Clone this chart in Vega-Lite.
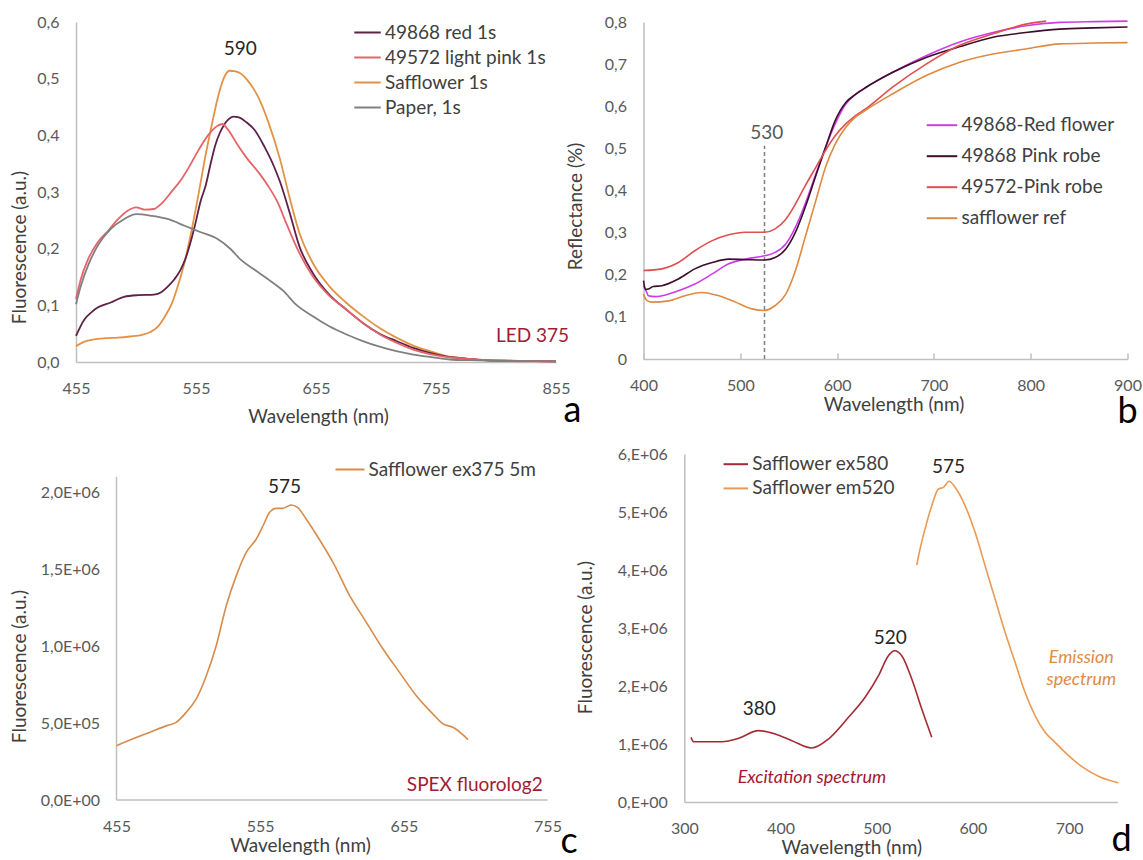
{
  "$schema": "https://vega.github.io/schema/vega-lite/v6.json",
  "background": "white",
  "padding": {"left": 10, "top": 14, "right": 0, "bottom": 0},
  "config": {
    "view": {"stroke": null},
    "font": "Lato",
    "axis": {
      "grid": false, "ticks": false, "domainColor": "#BFBFBF", "domainWidth": 1.5,
      "labelFont": "Lato", "labelFontSize": 16, "labelColor": "#595959", "labelPadding": 18,
      "labelFlush": false, "labelOverlap": false,
      "titleFont": "Lato", "titleFontSize": 19, "titleFontWeight": "normal", "titleColor": "#404040",
      "titleBaseline": "middle"
    },
    "legend": {
      "labelFont": "Lato", "labelFontSize": 19, "labelColor": "#404040", "symbolType": "stroke",
      "symbolStrokeWidth": 2, "padding": 0, "labelLimit": 400
    }
  },
  "datasets": {
    "a": [
      {"s":"Safflower 1s","w":455,"v":0.028},{"s":"Safflower 1s","w":462,"v":0.036},{"s":"Safflower 1s","w":470,"v":0.040},{"s":"Safflower 1s","w":480,"v":0.042},{"s":"Safflower 1s","w":490,"v":0.043},{"s":"Safflower 1s","w":500,"v":0.045},{"s":"Safflower 1s","w":510,"v":0.048},{"s":"Safflower 1s","w":517,"v":0.053},{"s":"Safflower 1s","w":523,"v":0.062},{"s":"Safflower 1s","w":529,"v":0.080},{"s":"Safflower 1s","w":535,"v":0.104},{"s":"Safflower 1s","w":540,"v":0.135},{"s":"Safflower 1s","w":545,"v":0.172},{"s":"Safflower 1s","w":551,"v":0.229},{"s":"Safflower 1s","w":557,"v":0.295},{"s":"Safflower 1s","w":563,"v":0.365},{"s":"Safflower 1s","w":568,"v":0.417},{"s":"Safflower 1s","w":573,"v":0.465},{"s":"Safflower 1s","w":578,"v":0.500},{"s":"Safflower 1s","w":583,"v":0.514},{"s":"Safflower 1s","w":588,"v":0.513},{"s":"Safflower 1s","w":593,"v":0.508},{"s":"Safflower 1s","w":598,"v":0.497},{"s":"Safflower 1s","w":603,"v":0.482},{"s":"Safflower 1s","w":607,"v":0.467},{"s":"Safflower 1s","w":615,"v":0.425},{"s":"Safflower 1s","w":625,"v":0.358},{"s":"Safflower 1s","w":633,"v":0.290},{"s":"Safflower 1s","w":641,"v":0.229},{"s":"Safflower 1s","w":652,"v":0.176},{"s":"Safflower 1s","w":666,"v":0.134},{"s":"Safflower 1s","w":680,"v":0.105},{"s":"Safflower 1s","w":694,"v":0.081},{"s":"Safflower 1s","w":708,"v":0.060},{"s":"Safflower 1s","w":722,"v":0.043},{"s":"Safflower 1s","w":736,"v":0.029},{"s":"Safflower 1s","w":750,"v":0.019},{"s":"Safflower 1s","w":763,"v":0.011},{"s":"Safflower 1s","w":777,"v":0.007},{"s":"Safflower 1s","w":791,"v":0.004},{"s":"Safflower 1s","w":815,"v":0.002},{"s":"Safflower 1s","w":835,"v":0.001},{"s":"Safflower 1s","w":855,"v":0.001},
      {"s":"49868 red 1s","w":455,"v":0.046},{"s":"49868 red 1s","w":462,"v":0.075},{"s":"49868 red 1s","w":468,"v":0.088},{"s":"49868 red 1s","w":473,"v":0.096},{"s":"49868 red 1s","w":484,"v":0.105},{"s":"49868 red 1s","w":495,"v":0.115},{"s":"49868 red 1s","w":507,"v":0.118},{"s":"49868 red 1s","w":520,"v":0.119},{"s":"49868 red 1s","w":526,"v":0.123},{"s":"49868 red 1s","w":531,"v":0.132},{"s":"49868 red 1s","w":537,"v":0.146},{"s":"49868 red 1s","w":542,"v":0.162},{"s":"49868 red 1s","w":546,"v":0.181},{"s":"49868 red 1s","w":550,"v":0.208},{"s":"49868 red 1s","w":554,"v":0.240},{"s":"49868 red 1s","w":559,"v":0.285},{"s":"49868 red 1s","w":563,"v":0.311},{"s":"49868 red 1s","w":567,"v":0.348},{"s":"49868 red 1s","w":571,"v":0.382},{"s":"49868 red 1s","w":575,"v":0.405},{"s":"49868 red 1s","w":578,"v":0.417},{"s":"49868 red 1s","w":582,"v":0.428},{"s":"49868 red 1s","w":586,"v":0.433},{"s":"49868 red 1s","w":590,"v":0.432},{"s":"49868 red 1s","w":594,"v":0.428},{"s":"49868 red 1s","w":597,"v":0.423},{"s":"49868 red 1s","w":604,"v":0.409},{"s":"49868 red 1s","w":612,"v":0.380},{"s":"49868 red 1s","w":620,"v":0.345},{"s":"49868 red 1s","w":625,"v":0.318},{"s":"49868 red 1s","w":633,"v":0.264},{"s":"49868 red 1s","w":641,"v":0.205},{"s":"49868 red 1s","w":652,"v":0.158},{"s":"49868 red 1s","w":666,"v":0.119},{"s":"49868 red 1s","w":680,"v":0.093},{"s":"49868 red 1s","w":694,"v":0.069},{"s":"49868 red 1s","w":708,"v":0.050},{"s":"49868 red 1s","w":722,"v":0.037},{"s":"49868 red 1s","w":736,"v":0.025},{"s":"49868 red 1s","w":750,"v":0.016},{"s":"49868 red 1s","w":763,"v":0.010},{"s":"49868 red 1s","w":780,"v":0.006},{"s":"49868 red 1s","w":797,"v":0.003},{"s":"49868 red 1s","w":820,"v":0.002},{"s":"49868 red 1s","w":855,"v":0.001},
      {"s":"49572 light pink 1s","w":455,"v":0.111},{"s":"49572 light pink 1s","w":459,"v":0.146},{"s":"49572 light pink 1s","w":465,"v":0.181},{"s":"49572 light pink 1s","w":473,"v":0.211},{"s":"49572 light pink 1s","w":482,"v":0.232},{"s":"49572 light pink 1s","w":490,"v":0.252},{"s":"49572 light pink 1s","w":498,"v":0.267},{"s":"49572 light pink 1s","w":505,"v":0.273},{"s":"49572 light pink 1s","w":512,"v":0.269},{"s":"49572 light pink 1s","w":520,"v":0.270},{"s":"49572 light pink 1s","w":526,"v":0.279},{"s":"49572 light pink 1s","w":534,"v":0.299},{"s":"49572 light pink 1s","w":543,"v":0.323},{"s":"49572 light pink 1s","w":550,"v":0.347},{"s":"49572 light pink 1s","w":556,"v":0.370},{"s":"49572 light pink 1s","w":565,"v":0.400},{"s":"49572 light pink 1s","w":573,"v":0.417},{"s":"49572 light pink 1s","w":577,"v":0.420},{"s":"49572 light pink 1s","w":581,"v":0.412},{"s":"49572 light pink 1s","w":590,"v":0.382},{"s":"49572 light pink 1s","w":598,"v":0.358},{"s":"49572 light pink 1s","w":607,"v":0.335},{"s":"49572 light pink 1s","w":615,"v":0.311},{"s":"49572 light pink 1s","w":623,"v":0.282},{"s":"49572 light pink 1s","w":630,"v":0.246},{"s":"49572 light pink 1s","w":641,"v":0.193},{"s":"49572 light pink 1s","w":652,"v":0.152},{"s":"49572 light pink 1s","w":666,"v":0.117},{"s":"49572 light pink 1s","w":680,"v":0.093},{"s":"49572 light pink 1s","w":694,"v":0.069},{"s":"49572 light pink 1s","w":708,"v":0.049},{"s":"49572 light pink 1s","w":722,"v":0.034},{"s":"49572 light pink 1s","w":736,"v":0.022},{"s":"49572 light pink 1s","w":750,"v":0.014},{"s":"49572 light pink 1s","w":763,"v":0.009},{"s":"49572 light pink 1s","w":780,"v":0.006},{"s":"49572 light pink 1s","w":800,"v":0.003},{"s":"49572 light pink 1s","w":825,"v":0.002},{"s":"49572 light pink 1s","w":855,"v":0.001},
      {"s":"Paper, 1s","w":455,"v":0.102},{"s":"Paper, 1s","w":459,"v":0.134},{"s":"Paper, 1s","w":465,"v":0.170},{"s":"Paper, 1s","w":473,"v":0.205},{"s":"Paper, 1s","w":484,"v":0.235},{"s":"Paper, 1s","w":495,"v":0.252},{"s":"Paper, 1s","w":505,"v":0.261},{"s":"Paper, 1s","w":518,"v":0.258},{"s":"Paper, 1s","w":532,"v":0.252},{"s":"Paper, 1s","w":546,"v":0.240},{"s":"Paper, 1s","w":559,"v":0.229},{"s":"Paper, 1s","w":573,"v":0.217},{"s":"Paper, 1s","w":584,"v":0.199},{"s":"Paper, 1s","w":592,"v":0.181},{"s":"Paper, 1s","w":603,"v":0.164},{"s":"Paper, 1s","w":617,"v":0.143},{"s":"Paper, 1s","w":628,"v":0.125},{"s":"Paper, 1s","w":638,"v":0.102},{"s":"Paper, 1s","w":652,"v":0.081},{"s":"Paper, 1s","w":666,"v":0.063},{"s":"Paper, 1s","w":680,"v":0.049},{"s":"Paper, 1s","w":694,"v":0.037},{"s":"Paper, 1s","w":708,"v":0.027},{"s":"Paper, 1s","w":722,"v":0.019},{"s":"Paper, 1s","w":736,"v":0.013},{"s":"Paper, 1s","w":750,"v":0.009},{"s":"Paper, 1s","w":769,"v":0.004},{"s":"Paper, 1s","w":791,"v":0.003},{"s":"Paper, 1s","w":820,"v":0.002},{"s":"Paper, 1s","w":855,"v":0.001}
    ],
    "b": [
      {"s":"49868-Red flower","w":400,"v":0.174},{"s":"49868-Red flower","w":403,"v":0.160},{"s":"49868-Red flower","w":405,"v":0.150},{"s":"49868-Red flower","w":412,"v":0.148},{"s":"49868-Red flower","w":419,"v":0.150},{"s":"49868-Red flower","w":436,"v":0.162},{"s":"49868-Red flower","w":453,"v":0.178},{"s":"49868-Red flower","w":471,"v":0.202},{"s":"49868-Red flower","w":488,"v":0.226},{"s":"49868-Red flower","w":505,"v":0.237},{"s":"49868-Red flower","w":525,"v":0.245},{"s":"49868-Red flower","w":536,"v":0.253},{"s":"49868-Red flower","w":547,"v":0.273},{"s":"49868-Red flower","w":557,"v":0.313},{"s":"49868-Red flower","w":567,"v":0.368},{"s":"49868-Red flower","w":578,"v":0.439},{"s":"49868-Red flower","w":588,"v":0.502},{"s":"49868-Red flower","w":598,"v":0.558},{"s":"49868-Red flower","w":609,"v":0.605},{"s":"49868-Red flower","w":619,"v":0.628},{"s":"49868-Red flower","w":630,"v":0.645},{"s":"49868-Red flower","w":657,"v":0.680},{"s":"49868-Red flower","w":692,"v":0.720},{"s":"49868-Red flower","w":726,"v":0.752},{"s":"49868-Red flower","w":761,"v":0.775},{"s":"49868-Red flower","w":795,"v":0.791},{"s":"49868-Red flower","w":830,"v":0.799},{"s":"49868-Red flower","w":865,"v":0.801},{"s":"49868-Red flower","w":900,"v":0.802},
      {"s":"49868 Pink robe","w":400,"v":0.186},{"s":"49868 Pink robe","w":402,"v":0.165},{"s":"49868 Pink robe","w":405,"v":0.166},{"s":"49868 Pink robe","w":410,"v":0.172},{"s":"49868 Pink robe","w":419,"v":0.174},{"s":"49868 Pink robe","w":436,"v":0.190},{"s":"49868 Pink robe","w":453,"v":0.214},{"s":"49868 Pink robe","w":471,"v":0.229},{"s":"49868 Pink robe","w":488,"v":0.237},{"s":"49868 Pink robe","w":505,"v":0.236},{"s":"49868 Pink robe","w":525,"v":0.235},{"s":"49868 Pink robe","w":536,"v":0.241},{"s":"49868 Pink robe","w":547,"v":0.261},{"s":"49868 Pink robe","w":557,"v":0.301},{"s":"49868 Pink robe","w":567,"v":0.360},{"s":"49868 Pink robe","w":578,"v":0.435},{"s":"49868 Pink robe","w":588,"v":0.502},{"s":"49868 Pink robe","w":598,"v":0.566},{"s":"49868 Pink robe","w":609,"v":0.609},{"s":"49868 Pink robe","w":619,"v":0.628},{"s":"49868 Pink robe","w":630,"v":0.645},{"s":"49868 Pink robe","w":657,"v":0.680},{"s":"49868 Pink robe","w":692,"v":0.716},{"s":"49868 Pink robe","w":726,"v":0.741},{"s":"49868 Pink robe","w":761,"v":0.764},{"s":"49868 Pink robe","w":795,"v":0.775},{"s":"49868 Pink robe","w":830,"v":0.783},{"s":"49868 Pink robe","w":865,"v":0.786},{"s":"49868 Pink robe","w":900,"v":0.788},
      {"s":"49572-Pink robe","w":400,"v":0.210},{"s":"49572-Pink robe","w":419,"v":0.214},{"s":"49572-Pink robe","w":436,"v":0.229},{"s":"49572-Pink robe","w":453,"v":0.257},{"s":"49572-Pink robe","w":471,"v":0.281},{"s":"49572-Pink robe","w":488,"v":0.295},{"s":"49572-Pink robe","w":505,"v":0.301},{"s":"49572-Pink robe","w":525,"v":0.301},{"s":"49572-Pink robe","w":536,"v":0.309},{"s":"49572-Pink robe","w":547,"v":0.332},{"s":"49572-Pink robe","w":557,"v":0.368},{"s":"49572-Pink robe","w":567,"v":0.411},{"s":"49572-Pink robe","w":578,"v":0.455},{"s":"49572-Pink robe","w":588,"v":0.495},{"s":"49572-Pink robe","w":598,"v":0.530},{"s":"49572-Pink robe","w":609,"v":0.558},{"s":"49572-Pink robe","w":619,"v":0.578},{"s":"49572-Pink robe","w":629,"v":0.593},{"s":"49572-Pink robe","w":657,"v":0.645},{"s":"49572-Pink robe","w":692,"v":0.700},{"s":"49572-Pink robe","w":726,"v":0.744},{"s":"49572-Pink robe","w":761,"v":0.772},{"s":"49572-Pink robe","w":795,"v":0.795},{"s":"49572-Pink robe","w":816,"v":0.802},
      {"s":"safflower ref","w":400,"v":0.154},{"s":"safflower ref","w":403,"v":0.140},{"s":"safflower ref","w":409,"v":0.135},{"s":"safflower ref","w":426,"v":0.138},{"s":"safflower ref","w":443,"v":0.150},{"s":"safflower ref","w":460,"v":0.158},{"s":"safflower ref","w":478,"v":0.150},{"s":"safflower ref","w":495,"v":0.135},{"s":"safflower ref","w":512,"v":0.119},{"s":"safflower ref","w":524,"v":0.115},{"s":"safflower ref","w":536,"v":0.127},{"s":"safflower ref","w":547,"v":0.154},{"s":"safflower ref","w":557,"v":0.210},{"s":"safflower ref","w":567,"v":0.289},{"s":"safflower ref","w":578,"v":0.376},{"s":"safflower ref","w":588,"v":0.455},{"s":"safflower ref","w":598,"v":0.510},{"s":"safflower ref","w":609,"v":0.550},{"s":"safflower ref","w":619,"v":0.574},{"s":"safflower ref","w":629,"v":0.590},{"s":"safflower ref","w":657,"v":0.629},{"s":"safflower ref","w":692,"v":0.673},{"s":"safflower ref","w":726,"v":0.704},{"s":"safflower ref","w":761,"v":0.724},{"s":"safflower ref","w":795,"v":0.736},{"s":"safflower ref","w":830,"v":0.748},{"s":"safflower ref","w":865,"v":0.750},{"s":"safflower ref","w":900,"v":0.751}
    ],
    "c": [
      {"s":"Safflower ex375 5m","w":455,"v":353000},{"s":"Safflower ex375 5m","w":466,"v":396000},{"s":"Safflower ex375 5m","w":478,"v":439000},{"s":"Safflower ex375 5m","w":490,"v":483000},{"s":"Safflower ex375 5m","w":496.5,"v":504000},{"s":"Safflower ex375 5m","w":503.5,"v":569000},{"s":"Safflower ex375 5m","w":510.5,"v":656000},{"s":"Safflower ex375 5m","w":517.5,"v":807000},{"s":"Safflower ex375 5m","w":524.4,"v":1002000},{"s":"Safflower ex375 5m","w":531.4,"v":1262000},{"s":"Safflower ex375 5m","w":538.4,"v":1457000},{"s":"Safflower ex375 5m","w":545.3,"v":1608000},{"s":"Safflower ex375 5m","w":552.3,"v":1695000},{"s":"Safflower ex375 5m","w":557,"v":1781000},{"s":"Safflower ex375 5m","w":561.6,"v":1868000},{"s":"Safflower ex375 5m","w":566,"v":1894000},{"s":"Safflower ex375 5m","w":570.7,"v":1894000},{"s":"Safflower ex375 5m","w":576.5,"v":1916000},{"s":"Safflower ex375 5m","w":581,"v":1900000},{"s":"Safflower ex375 5m","w":587,"v":1825000},{"s":"Safflower ex375 5m","w":596,"v":1695000},{"s":"Safflower ex375 5m","w":605.7,"v":1543000},{"s":"Safflower ex375 5m","w":617.3,"v":1327000},{"s":"Safflower ex375 5m","w":628.9,"v":1154000},{"s":"Safflower ex375 5m","w":640.5,"v":981000},{"s":"Safflower ex375 5m","w":652,"v":829000},{"s":"Safflower ex375 5m","w":663.7,"v":677000},{"s":"Safflower ex375 5m","w":675.3,"v":558000},{"s":"Safflower ex375 5m","w":682.3,"v":494000},{"s":"Safflower ex375 5m","w":689.2,"v":472000},{"s":"Safflower ex375 5m","w":699.7,"v":392000}
    ],
    "d": [
      {"s":"Safflower ex580","w":307,"v":1115000},{"s":"Safflower ex580","w":309.7,"v":1040000},{"s":"Safflower ex580","w":321.8,"v":1040000},{"s":"Safflower ex580","w":339,"v":1040000},{"s":"Safflower ex580","w":356.5,"v":1098000},{"s":"Safflower ex580","w":377,"v":1230000},{"s":"Safflower ex580","w":394.5,"v":1172000},{"s":"Safflower ex580","w":411.8,"v":1057000},{"s":"Safflower ex580","w":432.5,"v":931000},{"s":"Safflower ex580","w":449.8,"v":1086000},{"s":"Safflower ex580","w":470.6,"v":1460000},{"s":"Safflower ex580","w":487.9,"v":1805000},{"s":"Safflower ex580","w":501.8,"v":2178000},{"s":"Safflower ex580","w":512.1,"v":2523000},{"s":"Safflower ex580","w":518.4,"v":2609000},{"s":"Safflower ex580","w":526,"v":2523000},{"s":"Safflower ex580","w":536.4,"v":2121000},{"s":"Safflower ex580","w":546.8,"v":1603000},{"s":"Safflower ex580","w":557.2,"v":1115000},
      {"s":"Safflower em520","w":541.6,"v":4086000},{"s":"Safflower em520","w":545,"v":4362000},{"s":"Safflower em520","w":550.2,"v":4707000},{"s":"Safflower em520","w":557.2,"v":5109000},{"s":"Safflower em520","w":564.1,"v":5397000},{"s":"Safflower em520","w":569.3,"v":5425000},{"s":"Safflower em520","w":575.2,"v":5529000},{"s":"Safflower em520","w":581.4,"v":5425000},{"s":"Safflower em520","w":591.8,"v":5109000},{"s":"Safflower em520","w":602.2,"v":4649000},{"s":"Safflower em520","w":612.6,"v":4075000},{"s":"Safflower em520","w":623,"v":3500000},{"s":"Safflower em520","w":633.4,"v":2925000},{"s":"Safflower em520","w":643.8,"v":2408000},{"s":"Safflower em520","w":654.1,"v":1891000},{"s":"Safflower em520","w":664.5,"v":1489000},{"s":"Safflower em520","w":674.9,"v":1201000},{"s":"Safflower em520","w":685.3,"v":1029000},{"s":"Safflower em520","w":695.7,"v":856000},{"s":"Safflower em520","w":714,"v":600000},{"s":"Safflower em520","w":732,"v":431000},{"s":"Safflower em520","w":751,"v":333000}
    ]
  },
  "spacing": 15,
  "vconcat": [
    {
      "bounds": "flush",
      "spacing": 87.5,
      "resolve": {"scale": {"x": "independent", "y": "independent", "color": "independent"}, "legend": {"color": "independent"}},
      "hconcat": [
        {
          "width": 480, "height": 340,
          "encoding": {
            "x": {"field": "w", "type": "quantitative", "scale": {"domain": [455, 855], "nice": false, "zero": false},
                  "axis": {"values": [455, 555, 655, 755, 855], "title": "Wavelength (nm)", "titleX": 242, "titleY": 54}},
            "y": {"field": "v", "type": "quantitative", "scale": {"domain": [0, 0.6], "nice": false},
                  "axis": {"values": [0, 0.1, 0.2, 0.3, 0.4, 0.5, 0.6], "labelExpr": "replace(format(datum.value,'.1f'),'.',',')", "labelPadding": 17,
                           "title": "Fluorescence (a.u.)", "titleX": -56.5, "titleY": 225}}
          },
          "layer": [
            {"data": {"name": "a"}, "mark": {"type": "line", "strokeWidth": 1.8, "interpolate": "monotone"},
             "encoding": {"color": {"field": "s", "type": "nominal",
               "scale": {"domain": ["49868 red 1s", "49572 light pink 1s", "Safflower 1s", "Paper, 1s"], "range": ["#5E2148", "#E5646A", "#E39245", "#808080"]},
               "legend": {"title": null, "orient": "none", "legendX": 277, "legendY": -4, "symbolSize": 700, "rowPadding": 0, "labelOffset": 3}}}},
            {"data": {"values": [{"w": 591.9, "v": 0.553, "t": "590"}]}, "mark": {"type": "text", "font": "Lato", "fontSize": 19, "color": "#262626"}, "encoding": {"text": {"field": "t"}}},
            {"data": {"values": [{"w": 835.4, "v": 0.0457, "t": "LED 375"}]}, "mark": {"type": "text", "font": "Lato", "fontSize": 19, "color": "#A01C35"}, "encoding": {"text": {"field": "t"}}},
            {"data": {"values": [{"w": 868.75, "v": -0.086, "t": "a"}]}, "mark": {"type": "text", "font": "Lato", "fontSize": 36, "color": "#000000"}, "encoding": {"text": {"field": "t"}}}
          ]
        },
        {
          "width": 484, "height": 337,
          "encoding": {
            "x": {"field": "w", "type": "quantitative", "scale": {"domain": [400, 900], "nice": false, "zero": false},
                  "axis": {"values": [400, 500, 600, 700, 800, 900], "ticks": true, "tickSize": -6, "tickColor": "#BFBFBF", "tickWidth": 1.5, "labelPadding": 24,
                           "title": "Wavelength (nm)", "titleX": 250, "titleY": 45}},
            "y": {"field": "v", "type": "quantitative", "scale": {"domain": [0, 0.8], "nice": false},
                  "axis": {"values": [0, 0.1, 0.2, 0.3, 0.4, 0.5, 0.6, 0.7, 0.8], "labelExpr": "datum.value == 0 ? '0' : replace(format(datum.value,'.1f'),'.',',')", "labelPadding": 17,
                           "title": "Reflectance (%)", "titleX": -68, "titleY": 184}}
          },
          "layer": [
            {"data": {"values": [{"w": 525, "v": 0, "v2": 0.506}]}, "mark": {"type": "rule", "color": "#7F7F7F", "strokeWidth": 1.5, "strokeDash": [4, 3]},
             "encoding": {"y2": {"field": "v2"}}},
            {"data": {"name": "b"}, "mark": {"type": "line", "strokeWidth": 1.6, "interpolate": "monotone"},
             "encoding": {"color": {"field": "s", "type": "nominal",
               "scale": {"domain": ["49868-Red flower", "49868 Pink robe", "49572-Pink robe", "safflower ref"], "range": ["#CC3DE8", "#3B0F2A", "#DF4F4F", "#DF8A40"]},
               "legend": {"title": null, "orient": "none", "legendX": 282, "legendY": 86.7, "symbolSize": 930, "rowPadding": 4, "labelOffset": 3}}}},
            {"data": {"values": [{"w": 527.3, "v": 0.536, "t": "530"}]}, "mark": {"type": "text", "font": "Lato", "fontSize": 19, "color": "#595959"}, "encoding": {"text": {"field": "t"}}},
            {"data": {"values": [{"w": 900, "v": -0.126, "t": "b"}]}, "mark": {"type": "text", "font": "Lato", "fontSize": 36, "color": "#000000"}, "encoding": {"text": {"field": "t"}}}
          ]
        }
      ]
    },
    {
      "bounds": "flush",
      "spacing": 136.3,
      "resolve": {"scale": {"x": "independent", "y": "independent", "color": "independent"}, "legend": {"color": "independent"}},
      "hconcat": [
        {
          "width": 471.5, "height": 346,
          "encoding": {
            "x": {"field": "w", "type": "quantitative", "scale": {"domain": [426.8, 755], "nice": false, "zero": false},
                  "axis": {"values": [455, 555, 655, 755], "domain": false, "title": "Wavelength (nm)", "titleX": 224, "titleY": 45.7}},
            "y": {"field": "v", "type": "quantitative", "scale": {"domain": [0, 2247000], "nice": false},
                  "axis": {"values": [0, 500000, 1000000, 1500000, 2000000], "domain": false, "offset": -40.5, "labelExpr": "replace(replace(format(datum.value,'.1e'),'.',','),'e+','E+0')", "labelPadding": 17,
                           "title": "Fluorescence (a.u.)", "titleX": -96.7, "titleY": 212}}
          },
          "layer": [
            {"data": {"values": [{"w": 455, "v": 0, "v2": 2100000}]}, "mark": {"type": "rule", "color": "#BFBFBF", "strokeWidth": 1.5},
             "encoding": {"y2": {"field": "v2"}}},
            {"data": {"values": [{"w": 455, "w2": 755, "v": 0}]}, "mark": {"type": "rule", "color": "#BFBFBF", "strokeWidth": 1.5},
             "encoding": {"x2": {"field": "w2"}}},
            {"data": {"name": "c"}, "mark": {"type": "line", "strokeWidth": 1.6, "interpolate": "monotone"},
             "encoding": {"color": {"field": "s", "type": "nominal",
               "scale": {"domain": ["Safflower ex375 5m"], "range": ["#D98B4A"]},
               "legend": {"title": null, "orient": "none", "legendX": 258.5, "legendY": 0, "symbolSize": 841, "rowPadding": 0, "labelOffset": 3}}}},
            {"data": {"values": [{"w": 572, "v": 2030000, "t": "575"}]}, "mark": {"type": "text", "font": "Lato", "fontSize": 19, "color": "#262626"}, "encoding": {"text": {"field": "t"}}},
            {"data": {"values": [{"w": 704.4, "v": 97000, "t": "SPEX fluorolog2"}]}, "mark": {"type": "text", "font": "Lato", "fontSize": 19, "color": "#A01C35"}, "encoding": {"text": {"field": "t"}}},
            {"data": {"values": [{"w": 770, "v": -275000, "t": "c"}]}, "mark": {"type": "text", "font": "Lato", "fontSize": 36, "color": "#000000"}, "encoding": {"text": {"field": "t"}}}
          ]
        },
        {
          "width": 433, "height": 348,
          "encoding": {
            "x": {"field": "w", "type": "quantitative", "scale": {"domain": [300, 750], "nice": false, "zero": false},
                  "axis": {"values": [300, 400, 500, 600, 700], "title": "Wavelength (nm)", "titleX": 167, "titleY": 45}},
            "y": {"field": "v", "type": "quantitative", "scale": {"domain": [0, 6000000], "nice": false},
                  "axis": {"values": [0, 1000000, 2000000, 3000000, 4000000, 5000000, 6000000], "labelExpr": "replace(format(datum.value,'.0e'),'e+',',E+0')", "labelPadding": 17,
                           "title": "Fluorescence (a.u.)", "titleX": -99, "titleY": 183}}
          },
          "layer": [
            {"data": {"name": "d"}, "mark": {"type": "line", "strokeWidth": 1.6, "interpolate": "monotone"},
             "encoding": {"color": {"field": "s", "type": "nominal",
               "scale": {"domain": ["Safflower ex580", "Safflower em520"], "range": ["#A52A35", "#E99A55"]},
               "legend": {"title": null, "orient": "none", "legendX": 38, "legendY": -3.3, "symbolSize": 600, "rowPadding": 0.2, "labelOffset": 3}}}},
            {"data": {"values": [{"w": 574.5, "v": 5770000, "t": "575"}, {"w": 514, "v": 2830000, "t": "520"}, {"w": 378, "v": 1600000, "t": "380"}]}, "mark": {"type": "text", "font": "Lato", "fontSize": 19, "color": "#262626"}, "encoding": {"text": {"field": "t"}}},
            {"data": {"values": [{"w": 432.6, "v": 414000, "t": "Excitation spectrum"}]}, "mark": {"type": "text", "font": "Lato", "fontSize": 18, "fontStyle": "italic", "color": "#A0192E"}, "encoding": {"text": {"field": "t"}}},
            {"data": {"values": [{"w": 712.6, "v": 2480000, "t": "Emission"}, {"w": 712.6, "v": 2100000, "t": "spectrum"}]}, "mark": {"type": "text", "font": "Lato", "fontSize": 18, "fontStyle": "italic", "color": "#E08B45"}, "encoding": {"text": {"field": "t"}}},
            {"data": {"values": [{"w": 754.5, "v": -660000, "t": "d"}]}, "mark": {"type": "text", "font": "Lato", "fontSize": 36, "color": "#000000"}, "encoding": {"text": {"field": "t"}}}
          ]
        }
      ]
    }
  ]
}
